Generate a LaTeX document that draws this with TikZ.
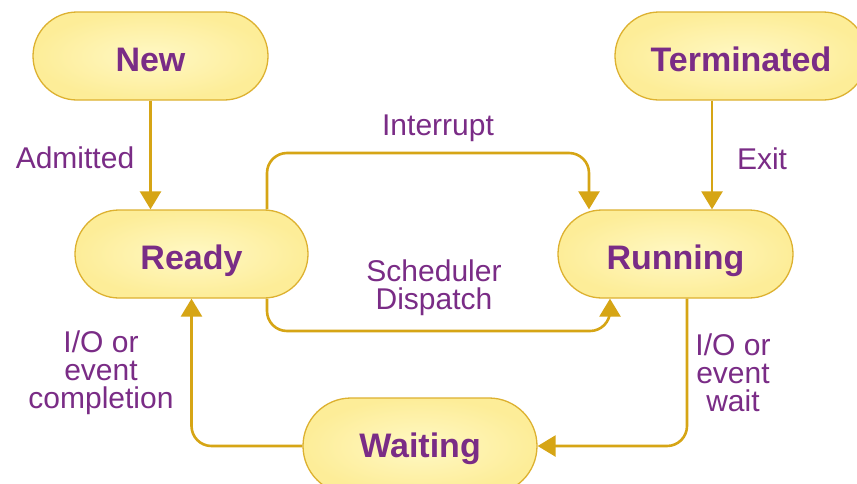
\documentclass[tikz,border=0pt]{standalone}
\usepackage{fontspec}
\setmainfont{Liberation Sans}
\usetikzlibrary{arrows.meta}
\definecolor{goldline}{HTML}{D6A515}
\definecolor{goldedge}{HTML}{DDB130}
\definecolor{fillin}{HTML}{FFF8C4}
\definecolor{fillout}{HTML}{FDED98}
\definecolor{statetext}{HTML}{7A2C86}
\tikzset{
  state/.style={draw=goldedge, line width=1.3pt, shade, inner color=fillin, outer color=fillout,
    rounded corners=44pt, minimum width=235pt, minimum height=88pt, inner sep=0pt,
    font=\fontsize{34}{36}\selectfont\bfseries, text=statetext,
    text height=30pt, text depth=0pt},
  conn/.style={draw=goldline, line width=2.6pt, rounded corners=20pt,
    -{Triangle[width=21pt,length=18pt]}},
  lbl/.style={font=\fontsize{30}{28}\selectfont, text=statetext, align=center, inner sep=0pt}
}
\begin{document}
\begin{tikzpicture}[x=1pt,y=-1pt]
  \useasboundingbox (0,0) rectangle (857,483);
  \clip (0,0) rectangle (857,483);
  \fill[white] (0,0) rectangle (857,483);

  % process states
  \node[state] (new) at (150.5,56) {New};
  \node[state, minimum width=252pt] (term) at (741,56) {Terminated};
  \node[state, minimum width=233pt] (ready) at (191.5,254) {Ready};
  \node[state] (run) at (675.5,254) {Running};
  \node[state, minimum width=234pt, minimum height=96pt, rounded corners=48pt,
        text height=22pt] (wait) at (420,446) {Waiting};

  % routing levels of the elbow connectors
  \coordinate (irq) at (438,153);
  \coordinate (dsp) at (438,331);

  % transitions
  \draw[conn] (new.south) -- (new.south |- ready.north);
  \draw[conn] ([xshift=-29pt]term.south) -- ([xshift=-29pt]term.south |- run.north);
  \draw[conn] ([xshift=75.5pt]ready.north) |- (irq) -| ([xshift=-86.5pt]run.north);
  \draw[conn] ([xshift=75.5pt]ready.south) |- (dsp) -| ([xshift=-65.5pt]run.south);
  \draw[conn] ([xshift=11.5pt]run.south) |- (wait.east);
  \draw[conn] (wait.west) -| (ready.south);

  % transition labels
  \node[lbl] (lAdm) at (75,158) {Admitted};
  \node[lbl] (lExit) at (762,159) {Exit};
  \node[lbl] (lIrq) at (438,128) {Interrupt};
  \node[lbl] (lDsp) at (434,288) {Scheduler\\Dispatch};
  \node[lbl] (lCmp) at (101,373) {I/O or\\event\\completion};
  \node[lbl] (lWt) at (733,373) {I/O or\\event\\wait};
\end{tikzpicture}
\end{document}
